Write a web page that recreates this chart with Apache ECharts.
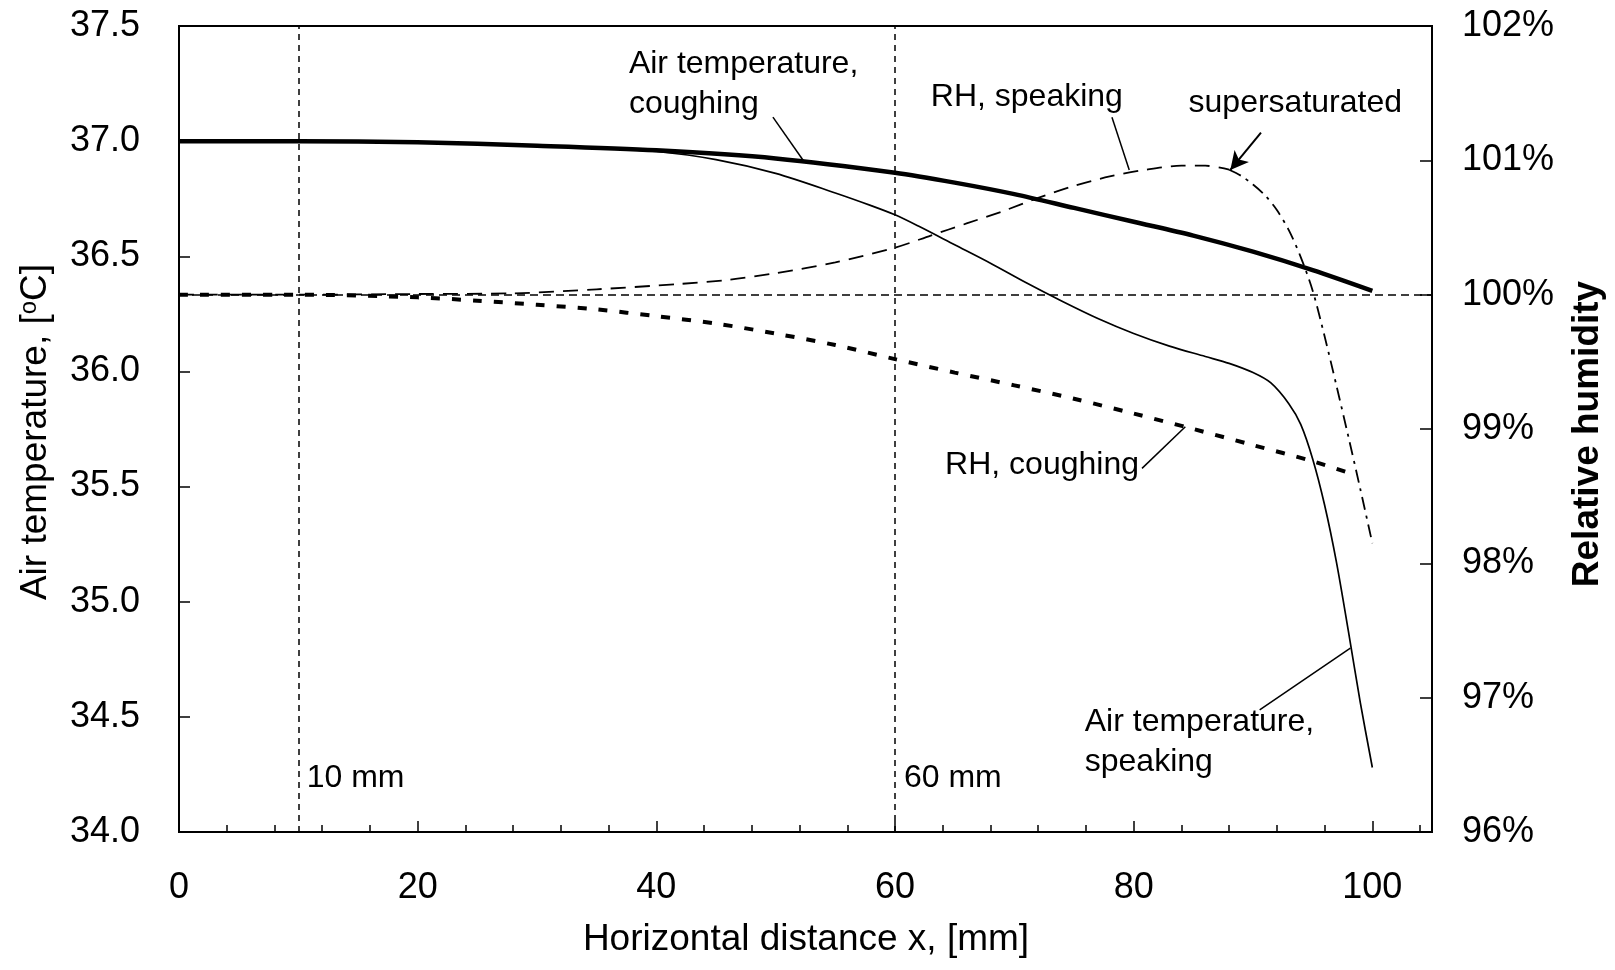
<!DOCTYPE html>
<html><head><meta charset="utf-8">
<script src="https://cdn.jsdelivr.net/npm/echarts@6/dist/echarts.min.js"></script>
<style>html,body{margin:0;padding:0;background:#fff}#c{width:1615px;height:970px}</style>
</head><body><div id="c"></div>
<script>
// ---------------- data ----------------
const distTempCough = [0,10,20,30,40,50,60,65,70,75,80,85,90,95,100];
const tempCoughing  = [37.0,37.0,36.995,36.98,36.96,36.925,36.863,36.82,36.77,36.71,36.65,36.59,36.52,36.44,36.35];

const distTempSpeak = [0,10,20,30,35,40,45,50,55,58,60,62,65,68,71,74,77,80,83,86,88,90,91.5,93,94,95,96,97,98,99,100];
const tempSpeaking  = [37.0,37.0,36.995,36.98,36.97,36.955,36.92,36.86,36.775,36.72,36.68,36.63,36.55,36.47,36.385,36.305,36.23,36.165,36.11,36.065,36.035,35.995,35.95,35.86,35.77,35.62,35.42,35.17,34.87,34.56,34.28];

const distRhSpeak = [0,10,20,28,35,42,46,50,55,60,63,66,69,72,75,78,81,84,86,88];
const rhSpeaking  = [100,100,100.005,100.01,100.04,100.08,100.11,100.16,100.24,100.35,100.44,100.53,100.62,100.72,100.81,100.88,100.93,100.96,100.96,100.93];

const distRhSuper = [88,89,90,91,92,93,94,95,96,97,98,99,100];
const rhSupersat  = [100.93,100.885,100.82,100.74,100.63,100.48,100.28,100.03,99.69,99.32,98.94,98.55,98.15];

const distRhCough = [0,10,20,25,30,35,40,45,50,55,60,65,70,75,80,85,90,95,98.5];
const rhCoughing  = [100,100,99.98,99.955,99.925,99.89,99.84,99.785,99.71,99.625,99.52,99.42,99.325,99.225,99.115,99.0,98.88,98.76,98.66];

const xTickLabels = [0,20,40,60,80,100];
const refDistances = [10,60];
const refRH = 100;

// annotations in data coordinates (x, air temperature axis)
const noteTexts = ['Air temperature,\ncoughing','RH, speaking','supersaturated','RH, coughing','Air temperature,\nspeaking','10 mm','60 mm'];
const noteX = [37.7, 63.0, 84.6, 64.2, 75.9, 10.7, 60.75];
const noteY = [37.248, 37.192, 37.166, 35.594, 34.389, 34.235, 34.235];
// leader lines [x1,y1,x2,y2] in data coordinates
const leaders = [
  [49.77,37.104,52.33,36.915],
  [78.18,37.104,79.63,36.875],
  [80.7,35.579,84.33,35.76],
  [90.56,34.53,98.16,34.798]
];
const arrowLine = [90.67,37.037,88.1,36.875];

// ---------------- chart ----------------
const F = '"Liberation Sans", Arial, sans-serif';
const pairs = (xs, ys) => xs.map((x, i) => [x, ys[i]]);
const chart = echarts.init(document.getElementById('c'));

const leaderData = leaders.map(l => [
  {coord:[l[0], l[1]], symbol:'none'},
  {coord:[l[2], l[3]], symbol:'none', lineStyle:{type:'solid', width:1.5, color:'#000'}}
]);
leaderData.push([
  {coord:[arrowLine[0], arrowLine[1]], symbol:'none'},
  {coord:[arrowLine[2], arrowLine[3]], symbol:'arrow', symbolSize:[14,18], lineStyle:{type:'solid', width:2, color:'#000'}}
]);
const refLineData = refDistances.map(d => ({xAxis:d, lineStyle:{type:[6,5], width:1.5, color:'#000'}}));

const option = {
  animation:false,
  grid:{left:179, right:183, top:26, bottom:138, show:true, borderColor:'#000', borderWidth:2},
  xAxis:[
    {type:'value', min:0, max:105, interval:4,
     axisLine:{show:true, onZero:false, lineStyle:{color:'#000', width:2}},
     axisTick:{show:true, inside:true, length:7, lineStyle:{color:'#000', width:1.5}},
     axisLabel:{margin:38, fontSize:36, fontFamily:F, color:'#000',
       formatter: v => xTickLabels.indexOf(v) >= 0 ? String(v) : ''},
     splitLine:{show:false}},
    {type:'value', min:0, max:105, interval:20, position:'bottom',
     axisLine:{show:false},
     axisTick:{show:true, inside:true, length:11, lineStyle:{color:'#000', width:1.5}},
     axisLabel:{show:false}, splitLine:{show:false}}
  ],
  yAxis:[
    {type:'value', min:34, max:37.5, interval:0.5, position:'left',
     axisLine:{show:true, onZero:false, lineStyle:{color:'#000', width:2}},
     axisTick:{show:true, inside:true, length:11, lineStyle:{color:'#000', width:1.5}},
     axisLabel:{margin:39, fontSize:36, fontFamily:F, color:'#000', formatter: v => v.toFixed(1)},
     splitLine:{show:false}},
    {type:'value', min:96, max:102, interval:1, position:'right',
     axisLine:{show:true, onZero:false, lineStyle:{color:'#000', width:2}},
     axisTick:{show:true, inside:true, length:12, lineStyle:{color:'#000', width:1.5}},
     axisLabel:{margin:30, fontSize:36, fontFamily:F, color:'#000', formatter: v => v + '%'},
     splitLine:{show:false}}
  ],
  series:[
    {name:'Air temperature, coughing', type:'line', xAxisIndex:0, yAxisIndex:0,
     data:pairs(distTempCough, tempCoughing), showSymbol:false, smooth:0.3, z:5,
     lineStyle:{color:'#000', width:4.5},
     markLine:{silent:true, symbol:['none','none'], label:{show:false}, animation:false,
       lineStyle:{color:'#000', width:1.5, type:'solid'},
       data: refLineData.concat(leaderData)}},
    {name:'Air temperature, speaking', type:'line', xAxisIndex:0, yAxisIndex:0,
     data:pairs(distTempSpeak, tempSpeaking), showSymbol:false, smooth:0.3, z:4,
     lineStyle:{color:'#000', width:1.7}},
    {name:'RH, speaking', type:'line', xAxisIndex:0, yAxisIndex:1,
     data:pairs(distRhSpeak, rhSpeaking), showSymbol:false, smooth:0.3, z:4,
     lineStyle:{color:'#000', width:1.8, type:[15,9]},
     markLine:{silent:true, symbol:['none','none'], label:{show:false}, animation:false,
       data:[{yAxis:refRH, lineStyle:{type:[8,5], width:1.5, color:'#000'}}]}},
    {name:'RH, speaking (supersaturated)', type:'line', xAxisIndex:0, yAxisIndex:1,
     data:pairs(distRhSuper, rhSupersat), showSymbol:false, smooth:0.3, z:4,
     lineStyle:{color:'#000', width:1.8, type:[13,6,3,6]}},
    {name:'RH, coughing', type:'line', xAxisIndex:0, yAxisIndex:1,
     data:pairs(distRhCough, rhCoughing), showSymbol:false, smooth:0.3, z:4,
     lineStyle:{color:'#000', width:4, type:[9,12]}}
  ]
};
chart.setOption(option);

const graphics = [
  {type:'text', x:806, y:940, style:{text:'Horizontal distance x, [mm]', fontSize:37, fontFamily:F, fill:'#000', align:'center', verticalAlign:'middle'}},
  {type:'text', x:36, y:432, rotation:Math.PI/2,
   style:{text:'Air temperature, [{sup|o}C]', fontSize:37, fontFamily:F, fill:'#000', align:'center', verticalAlign:'middle',
     rich:{sup:{fontSize:24, fontFamily:F, fill:'#000', verticalAlign:'top', padding:[0,0,14,0]}}}},
  {type:'text', x:1588, y:434, rotation:Math.PI/2,
   style:{text:'Relative humidity', fontSize:37, fontWeight:'bold', fontFamily:F, fill:'#000', align:'center', verticalAlign:'middle'}}
];
noteTexts.forEach((t, i) => {
  const p = chart.convertToPixel({xAxisIndex:0, yAxisIndex:0}, [noteX[i], noteY[i]]);
  graphics.push({type:'text', x:p[0], y:p[1], z:10,
    style:{text:t, fontSize:32, fontFamily:F, fill:'#000', align:'left', verticalAlign:'middle', lineHeight:40}});
});
chart.setOption({graphic:graphics});
</script>
</body></html>
